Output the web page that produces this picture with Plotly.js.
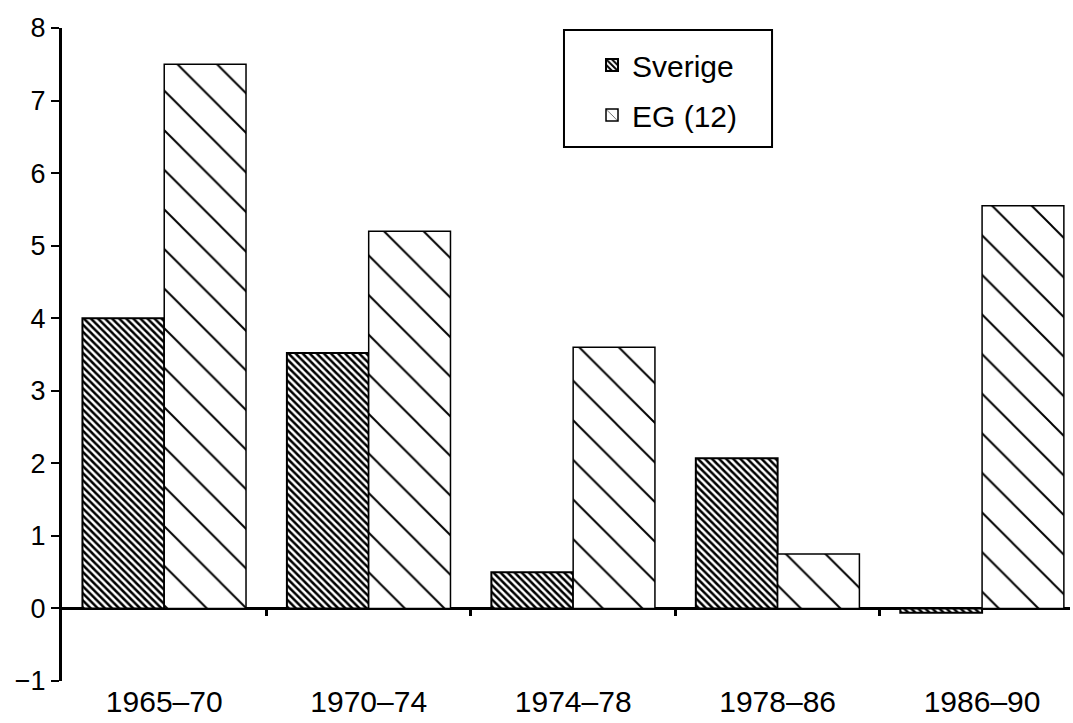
<!DOCTYPE html>
<html>
<head>
<meta charset="utf-8">
<script src="https://cdn.plot.ly/plotly-3.0.1.min.js"></script>
<style>html,body{margin:0;padding:0;background:#fff;}#chart{width:1073px;height:723px;}</style>
</head>
<body>
<div id="chart"></div>
<script>
const categories = ["1965\u201370", "1970\u201374", "1974\u201378", "1978\u201386", "1986\u201390"];
const sverige = [4.0, 3.52, 0.5, 2.07, -0.06];
const eg12 = [7.5, 5.2, 3.6, 0.75, 5.55];
const seriesNames = ["Sverige", "EG (12)"];
const yTicks = [-1, 0, 1, 2, 3, 4, 5, 6, 7, 8];
const boundaryTicks = [0.5, 1.5, 2.5, 3.5];

const font = "Liberation Sans, Arial, sans-serif";
const idx = categories.map((c, i) => i);

const traces = [
  {
    type: "bar", name: seriesNames[0], x: idx, y: sverige,
    legendgroup: "a",
    marker: {color: "#ffffff", line: {color: "#000", width: 2},
      pattern: {shape: "\\", size: 5, solidity: 0.5, fgcolor: "#000", bgcolor: "#fff", fillmode: "replace"}},
    hoverinfo: "x+y"
  },
  {
    type: "bar", name: seriesNames[1], x: idx, y: eg12,
    legendgroup: "b",
    marker: {color: "#ffffff", line: {color: "#000", width: 1.5},
      pattern: {shape: "\\", size: 28, solidity: 0.07, fgcolor: "#000", bgcolor: "#fff", fillmode: "replace"}},
    hoverinfo: "x+y"
  },
  {
    type: "scatter", x: [0], y: [0], xaxis: "x2", yaxis: "y",
    mode: "markers", marker: {opacity: 0}, showlegend: false, hoverinfo: "skip"
  }
];

const layout = {
  width: 1073, height: 723,
  margin: {l: 62, r: 3, t: 28, b: 42},
  paper_bgcolor: "#fff", plot_bgcolor: "#fff",
  font: {family: font, color: "#000", size: 26},
  barmode: "group", bargap: 0.2, bargroupgap: 0,
  showlegend: true,
  legend: {
    x: 0.5258, y: 0.983, xanchor: "left", yanchor: "top",
    borderwidth: 0, bgcolor: "rgba(0,0,0,0)",
    font: {family: font, size: 30, color: "#000"},
    traceorder: "grouped", tracegroupgap: 8,
    itemwidth: 30
  },
  shapes: [{
    type: "rect", xref: "paper", yref: "paper",
    x0: 0.498, x1: 0.7044, y0: 0.8177, y1: 0.997,
    line: {color: "#000", width: 2}, fillcolor: "rgba(0,0,0,0)", layer: "above"
  }],
  xaxis: {
    range: [-0.5, 4.43], tickmode: "array", tickvals: idx, ticktext: categories,
    showline: false, showgrid: false, zeroline: false, ticks: "",
    tickfont: {family: font, size: 30, color: "#000"},
    fixedrange: true
  },
  xaxis2: {
    overlaying: "x", anchor: "free", position: 1 / 9,
    range: [-0.5, 4.43], tickmode: "array", tickvals: boundaryTicks,
    showticklabels: false, showline: false, showgrid: false, zeroline: false,
    ticks: "outside", ticklen: 7, tickwidth: 3, tickcolor: "#000"
  },
  yaxis: {
    range: [-1, 8], tickmode: "array", tickvals: yTicks,
    ticktext: yTicks.map(v => v < 0 ? "\u2212" + Math.abs(v) : String(v)),
    showline: true, linewidth: 3, linecolor: "#000",
    ticks: "outside", ticklen: 8, tickwidth: 2, tickcolor: "#000",
    showgrid: false, zeroline: true, zerolinecolor: "#000", zerolinewidth: 2.5,
    tickfont: {family: font, size: 27, color: "#000"},
    fixedrange: true
  }
};

Plotly.newPlot("chart", traces, layout, {displayModeBar: false, staticPlot: true});
</script>
</body>
</html>
